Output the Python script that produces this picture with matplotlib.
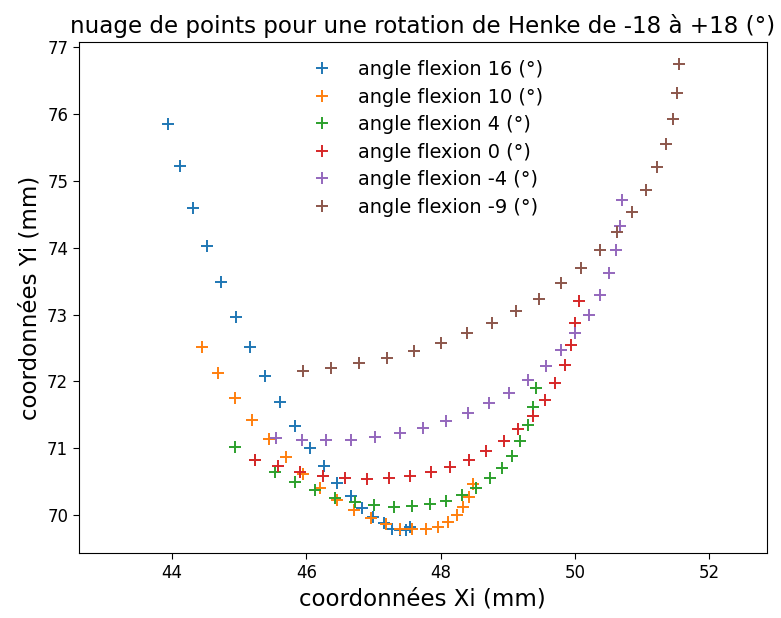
import numpy as np
import matplotlib
matplotlib.use('Agg')
import matplotlib.pyplot as plt

# flexion 16 deg
x16 = [43.94, 44.12, 44.31, 44.52, 44.73, 44.95, 45.16, 45.39, 45.61, 45.83, 46.05,
       46.26, 46.46, 46.66, 46.83, 47.00, 47.15, 47.28, 47.40, 47.48, 47.55]
y16 = [75.85, 75.22, 74.60, 74.02, 73.48, 72.97, 72.52, 72.08, 71.69, 71.33, 71.01,
       70.73, 70.48, 70.28, 70.10, 69.97, 69.88, 69.80, 69.78, 69.78, 69.83]
# flexion 10 deg
x10 = [44.44, 44.69, 44.94, 45.19, 45.45, 45.70, 45.95, 46.21, 46.46, 46.71, 46.96,
       47.18, 47.40, 47.58, 47.79, 47.96, 48.11, 48.24, 48.34, 48.43, 48.48]
y10 = [72.51, 72.12, 71.75, 71.43, 71.14, 70.87, 70.62, 70.41, 70.22, 70.07, 69.96,
       69.87, 69.80, 69.79, 69.79, 69.83, 69.90, 70.00, 70.12, 70.27, 70.46]
# flexion 4 deg
x4 = [44.93, 45.23, 45.53, 45.83, 46.13, 46.43, 46.72, 47.01, 47.30, 47.57, 47.84,
      48.08, 48.32, 48.53, 48.73, 48.91, 49.06, 49.19, 49.30, 49.37, 49.42]
y4 = [71.02, 70.82, 70.65, 70.50, 70.37, 70.26, 70.19, 70.15, 70.12, 70.13, 70.16,
      70.21, 70.30, 70.41, 70.55, 70.71, 70.89, 71.11, 71.35, 71.62, 71.90]
# flexion 0 deg
x0 = [45.24, 45.58, 45.91, 46.25, 46.58, 46.91, 47.23, 47.54, 47.85, 48.14, 48.42,
      48.68, 48.94, 49.16, 49.37, 49.55, 49.71, 49.85, 49.95, 50.01, 50.06]
y0 = [70.82, 70.74, 70.65, 70.59, 70.55, 70.54, 70.56, 70.58, 70.64, 70.72, 70.83,
      70.96, 71.11, 71.29, 71.49, 71.72, 71.97, 72.25, 72.55, 72.87, 73.21]
# flexion -4 deg
xm4 = [45.55, 45.93, 46.30, 46.67, 47.03, 47.39, 47.74, 48.08, 48.41, 48.72, 49.02,
       49.30, 49.57, 49.80, 50.01, 50.21, 50.37, 50.51, 50.61, 50.67, 50.71]
ym4 = [71.16, 71.13, 71.12, 71.13, 71.17, 71.23, 71.31, 71.41, 71.53, 71.68, 71.83,
       72.02, 72.23, 72.47, 72.72, 73.00, 73.29, 73.62, 73.96, 74.33, 74.71]
# flexion -9 deg
xm9 = [45.95, 46.37, 46.79, 47.20, 47.60, 48.00, 48.39, 48.76, 49.12, 49.46, 49.79,
       50.09, 50.37, 50.63, 50.85, 51.06, 51.22, 51.36, 51.46, 51.52, 51.55]
ym9 = [72.16, 72.20, 72.27, 72.35, 72.46, 72.58, 72.72, 72.87, 73.05, 73.24, 73.47,
       73.70, 73.96, 74.24, 74.54, 74.86, 75.20, 75.55, 75.93, 76.32, 76.74]

angles = [16, 10, 4, 0, -4, -9]
series = [(x16, y16), (x10, y10), (x4, y4), (x0, y0), (xm4, ym4), (xm9, ym9)]

fig = plt.figure(figsize=(7.81, 6.18), dpi=100)
ax = fig.add_axes([0.101, 0.1047, 0.8807, 0.8278])

for a, (xs, ys) in zip(angles, series):
    ax.plot(xs, ys, '+', markersize=8.5, mew=1.4, label='angle flexion {} (°)'.format(a))

ax.set_xlim(42.61, 52.86)
ax.set_ylim(69.43, 77.08)
ax.set_xticks([44, 46, 48, 50, 52])
ax.tick_params(labelsize=12, length=4.2)

ax.set_xlabel('coordonnées Xi (mm)', fontsize=16.5)
ax.set_ylabel('coordonnées Yi (mm)', fontsize=16.5)
ax.set_title('nuage de points pour une rotation de Henke de -18 à +18 (°)', fontsize=16.6)
ax.legend(loc='upper center', frameon=False, fontsize=13.9, labelspacing=0.44,
          borderaxespad=0.55, handletextpad=0.9)

plt.savefig('out.png', dpi=100)
